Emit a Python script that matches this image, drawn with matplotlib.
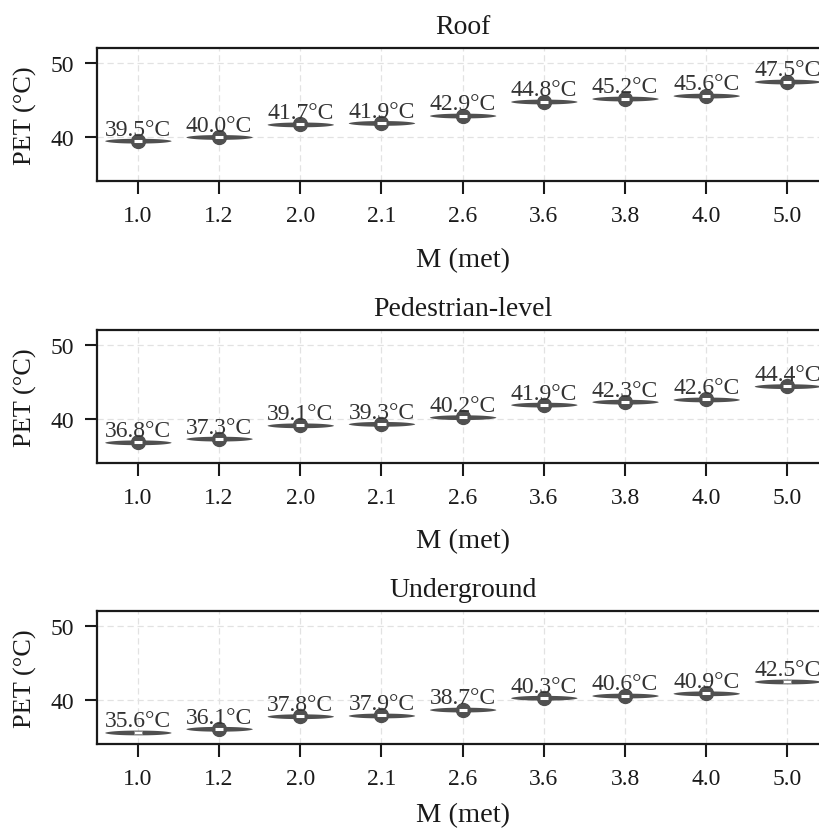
import numpy as np
import matplotlib
matplotlib.use("Agg")
import matplotlib.pyplot as plt

plt.rcParams['font.family'] = ['Liberation Serif', 'DejaVu Serif']

m_labels = ["1.0", "1.2", "2.0", "2.1", "2.6", "3.6", "3.8", "4.0", "5.0"]
roof = [39.5, 40.0, 41.7, 41.9, 42.9, 44.8, 45.2, 45.6, 47.5]
pedestrian = [36.8, 37.3, 39.1, 39.3, 40.2, 41.9, 42.3, 42.6, 44.4]
underground = [35.6, 36.1, 37.8, 37.9, 38.7, 40.3, 40.6, 40.9, 42.5]
# whether the violin shows a round density bulge around the median
roof_bulge = [True] * 9
ped_bulge = [True] * 9
under_bulge = [False, True, True, True, True, True, True, True, False]

panels = [("Roof", roof, roof_bulge),
          ("Pedestrian-level", pedestrian, ped_bulge),
          ("Underground", underground, under_bulge)]

W, H = 820, 829
fig = plt.figure(figsize=(W / 100, H / 100), dpi=100)

left_px, right_px = 97.3, 828.0
tops = [49.3, 331.0, 612.3]
xlabel_pads = [15, 15, 9.5]
ax_h = 133.0
vcol = '#505050'
tcol = '#1a1a1a'

t = np.linspace(-1, 1, 121)
half = 0.32 * np.clip(1 - np.abs(t) ** 2.5, 0, None) ** 0.6

for (title, vals, bulge), top, lpad in zip(panels, tops, xlabel_pads):
    ax = fig.add_axes([left_px / W, 1 - (top + ax_h) / H,
                       (right_px - left_px) / W, ax_h / H])
    x = np.arange(len(vals))
    for xi, v, b in zip(x, vals, bulge):
        xs = xi + 0.41 * t
        ax.fill_between(xs, v - half, v + half, color=vcol, lw=0, zorder=3)
        if b:
            ax.plot(xi, v, 'o', ms=10, color=vcol, mec=vcol, zorder=4)
            ax.hlines(v, xi - 0.05, xi + 0.05, color='white', lw=2.2, zorder=5)
        else:
            ax.add_patch(plt.Rectangle((xi - 0.05, v - 0.15), 0.10, 0.30,
                                       facecolor='white', edgecolor='#8a8a8a',
                                       lw=0.6, zorder=5))
        ax.text(xi, v + 0.15, f"{v:.1f}\u00b0C", ha='center', va='bottom',
                fontsize=17, color='#333333', zorder=6)
    ax.set_xlim(-0.5, len(vals) - 0.5)
    ax.set_ylim(34, 52)
    ax.set_yticks([40, 50])
    ax.set_xticks(x)
    ax.set_xticklabels(m_labels)
    ax.grid(True, color='#e2e2e2', linestyle=(0, (5, 3)), lw=0.9, zorder=0)
    ax.set_axisbelow(True)
    for s in ax.spines.values():
        s.set_linewidth(1.6)
        s.set_color(tcol)
    ax.tick_params(axis='both', direction='out', length=9, width=1.5,
                   labelsize=17, colors=tcol)
    ax.tick_params(axis='x', pad=8)
    ax.tick_params(axis='y', pad=8)
    ax.set_title(title, fontsize=20, pad=11, color=tcol)
    ax.set_xlabel("M (met)", fontsize=20.5, labelpad=lpad, color=tcol)
    ax.set_ylabel("PET (\u00b0C)", fontsize=19, labelpad=9.5, color=tcol)

fig.savefig("out.png", dpi=100)
